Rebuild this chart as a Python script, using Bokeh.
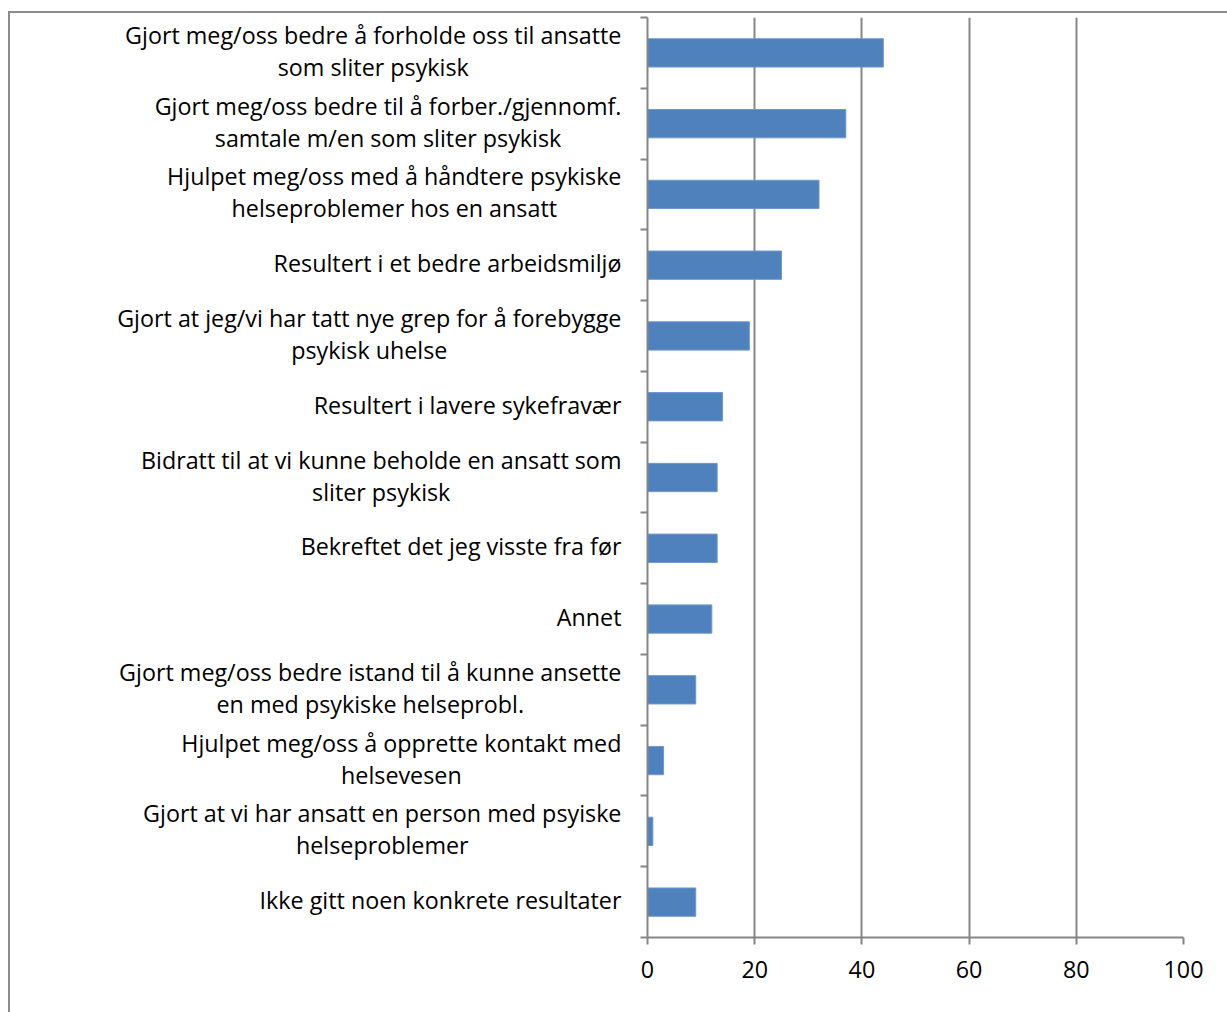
import glob
from bokeh.plotting import figure
from bokeh.layouts import row
from bokeh.models import Range1d, FixedTicker, ColumnDataSource
from bokeh.core.properties import value
from bokeh.embed import file_html
from bokeh.resources import INLINE

categories = [
    "Gjort meg/oss bedre å forholde oss til ansatte\nsom sliter psykisk",
    "Gjort meg/oss bedre til å forber./gjennomf.\nsamtale m/en som sliter psykisk",
    "Hjulpet meg/oss med å håndtere psykiske\nhelseproblemer hos en ansatt",
    "Resultert i et bedre arbeidsmiljø",
    "Gjort at jeg/vi har tatt nye grep for å forebygge\npsykisk uhelse",
    "Resultert i lavere sykefravær",
    "Bidratt til at vi kunne beholde en ansatt som\nsliter psykisk",
    "Bekreftet det jeg visste fra før",
    "Annet",
    "Gjort meg/oss bedre istand til å kunne ansette\nen med psykiske helseprobl.",
    "Hjulpet meg/oss å opprette kontakt med\nhelsevesen",
    "Gjort at vi har ansatt en person med psyiske\nhelseproblemer",
    "Ikke gitt noen konkrete resultater",
]
values = [44, 37, 32, 25, 19, 14, 13, 13, 12, 9, 3, 1, 9]
x_ticks = [0, 20, 40, 60, 80, 100]

FONT = "Open Sans"
FSIZE = 23.3
GRAY = "#868686"

# measure label widths so that multi-line labels can be centre-justified
def make_measure():
    try:
        from PIL import ImageFont
        files = sorted(glob.glob("/usr/share/fonts/**/OpenSans*.ttf", recursive=True))
        reg = [f for f in files if "Italic" not in f and "Bold" not in f and
               ("Regular" in f or "[" in f)] or files
        font = ImageFont.truetype(reg[0], 100)
        return lambda s: font.getlength(s) * FSIZE / 100.0
    except Exception:
        return lambda s: len(s) * 0.53 * FSIZE

measure = make_measure()
block_w = [max(measure(line) for line in c.split("\n")) for c in categories]

n = len(categories)
centers = [i + 0.5 for i in range(n)]
bounds = list(range(n + 1))

LABEL_W = 617      # width of the label panel
CHART_BL = 20      # chart border left (axis ticks area)
CHART_W = 1219 - LABEL_W
GAP = 26           # gap between label block and axis line
TOP, BOTTOM = 4, 77
H = 1001

y_range = Range1d(n, 0)

# ---------- label panel ----------
lp = figure(width=LABEL_W, height=H, output_backend="svg", toolbar_location=None,
            x_range=Range1d(-(LABEL_W + CHART_BL), -CHART_BL), y_range=y_range,
            x_axis_location=None, y_axis_location=None,
            min_border_left=0, min_border_right=0, min_border_top=TOP, min_border_bottom=BOTTOM)
lp.outline_line_color = None
lp.grid.grid_line_color = None
lp.background_fill_color = "white"
lp.border_fill_color = "white"
src = ColumnDataSource(dict(x=[-GAP] * n, y=centers, text=categories,
                            xo=[-w / 2 for w in block_w]))
lp.text(x="x", y="y", text="text", x_offset="xo", y_offset=-2, source=src,
        text_align="center", text_baseline="middle",
        text_font=value(FONT), text_font_size=f"{FSIZE}px", text_color="black",
        text_line_height=1.0)

# ---------- chart ----------
p = figure(width=CHART_W, height=H, output_backend="svg", toolbar_location=None,
           x_range=Range1d(0, 100), y_range=y_range,
           min_border_left=CHART_BL, min_border_right=46, min_border_top=TOP, min_border_bottom=BOTTOM)
p.outline_line_color = None
p.background_fill_color = "white"
p.border_fill_color = "white"

p.hbar(y=centers, right=values, left=0, height=0.4, fill_color="#4F81BD",
       line_color="#6f98cc", line_width=1)

p.xaxis.ticker = FixedTicker(ticks=x_ticks)
p.xaxis.axis_line_color = GRAY
p.xaxis.axis_line_width = 2
p.xaxis.major_tick_line_color = GRAY
p.xaxis.major_tick_line_width = 2
p.xaxis.major_tick_in = 0
p.xaxis.major_tick_out = 7
p.xaxis.minor_tick_line_color = None
p.xaxis.major_label_text_font = FONT
p.xaxis.major_label_text_font_size = f"{FSIZE}px"
p.xaxis.major_label_text_color = "black"
p.xaxis.major_label_standoff = 16

p.yaxis.ticker = FixedTicker(ticks=[], minor_ticks=bounds)
p.yaxis.axis_line_color = GRAY
p.yaxis.axis_line_width = 2
p.yaxis.major_tick_line_color = None
p.yaxis.minor_tick_line_color = GRAY
p.yaxis.minor_tick_line_width = 2
p.yaxis.minor_tick_in = 0
p.yaxis.minor_tick_out = 7

p.xgrid.ticker = FixedTicker(ticks=x_ticks[1:])
p.xgrid.grid_line_color = GRAY
p.xgrid.grid_line_width = 2
p.ygrid.grid_line_color = None

layout = row(lp, p)
layout.margin = (11, 0, 0, 8)
layout.styles = {"border-left": "2px solid #8c8c8c", "border-top": "2px solid #8c8c8c"}

open("out.html", "w").write(file_html(layout, INLINE))
